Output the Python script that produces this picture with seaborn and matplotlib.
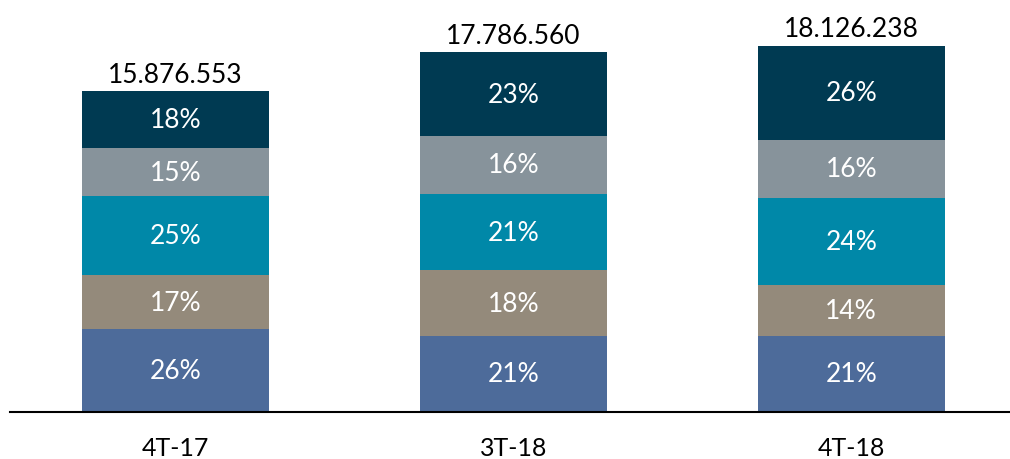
import numpy as np
import pandas as pd
import matplotlib
matplotlib.use("Agg")
import matplotlib.pyplot as plt
import seaborn as sns

# data
periods = ["4T-17", "3T-18", "4T-18"]
totals = [15876553, 17786560, 18126238]
# shares from bottom to top
share_1 = [26, 21, 21]
share_2 = [17, 18, 14]
share_3 = [25, 21, 24]
share_4 = [15, 16, 16]
share_5 = [18, 23, 26]
colors = ["#4D6B9A", "#948A7B", "#0088A8", "#87939B", "#003A52"]

sns.set_style("white")
plt.rcParams["font.family"] = ["Lato", "DejaVu Sans"]

shares = np.array([share_1, share_2, share_3, share_4, share_5], dtype=float)
seg = shares / shares.sum(axis=0) * np.array(totals)
cum = np.cumsum(seg, axis=0)

fig = plt.figure(figsize=(10.1, 4.6), dpi=100)
ax = fig.add_axes([10 / 1010, 47 / 460, 1000 / 1010, 413 / 460])

# draw cumulative bars from the top layer down so each covers the one below
for i in range(len(shares) - 1, -1, -1):
    df = pd.DataFrame({"period": periods, "value": cum[i]})
    sns.barplot(data=df, x="period", y="value", order=periods, color=colors[i],
                saturation=1, width=0.553, linewidth=0, ax=ax)

for i in range(len(shares)):
    for j in range(len(periods)):
        mid = cum[i, j] - seg[i, j] / 2
        ax.text(j, mid, f"{int(shares[i, j])}%", ha="center", va="center",
                color="white", fontsize=19)

for j, t in enumerate(totals):
    ax.annotate(f"{t:,}".replace(",", "."), (j, cum[-1, j]), xytext=(0, 3),
                textcoords="offset points", ha="center", va="bottom",
                fontsize=19, color="black")

ax.set_xlim(-0.49, 2.47)
ax.set_ylim(0, 413 * 15876553 / 321)
ax.set_xlabel("")
ax.set_ylabel("")
ax.set_yticks([])
ax.tick_params(axis="x", length=0, pad=17, labelsize=18, colors="black")
for s in ["top", "right", "left"]:
    ax.spines[s].set_visible(False)
ax.spines["bottom"].set_color("black")
ax.spines["bottom"].set_linewidth(1.5)

fig.savefig("out.png", dpi=100)
